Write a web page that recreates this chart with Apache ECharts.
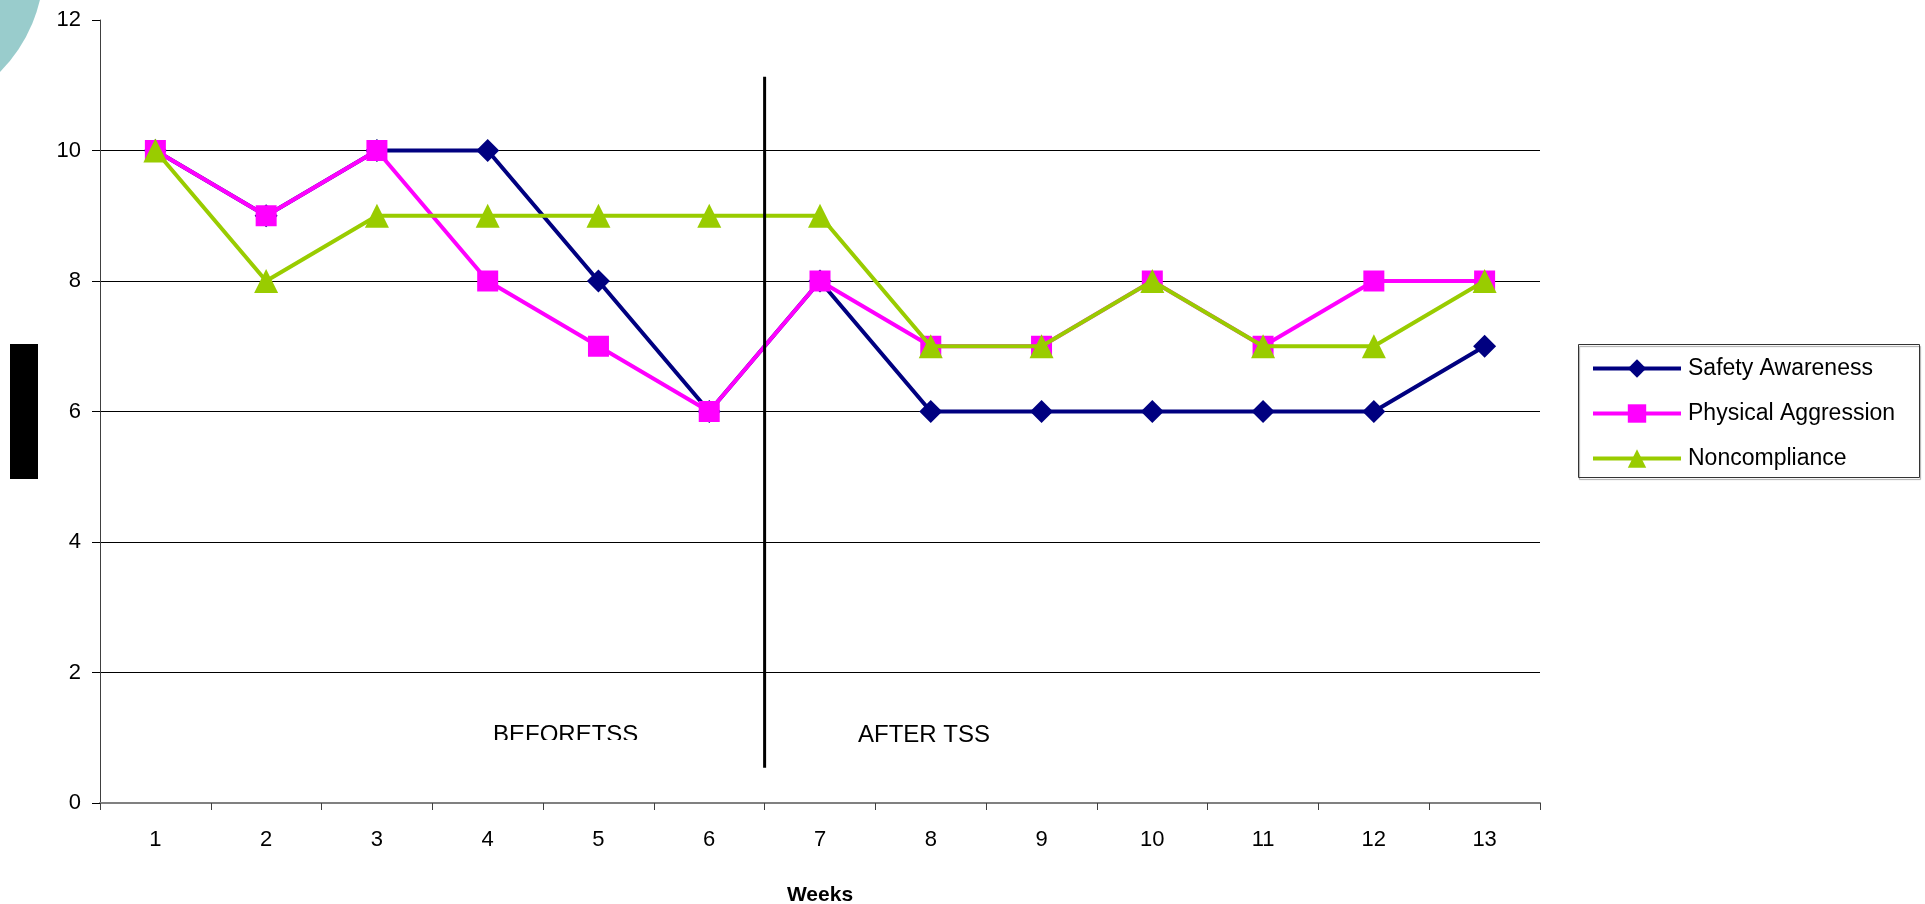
<!DOCTYPE html>
<html>
<head>
<meta charset="utf-8">
<title>Weekly behaviour scores</title>
<script src="https://cdn.jsdelivr.net/npm/echarts@6/dist/echarts.min.js"></script>
<style>
  html, body { margin: 0; padding: 0; background: #fff; }
  #chart { width: 1925px; height: 904px; }
</style>
</head>
<body>
<div id="chart"></div>
<script>
// Weeks 1..13
const weeks = ['1', '2', '3', '4', '5', '6', '7', '8', '9', '10', '11', '12', '13'];

// Scores per week
const safetyAwareness    = [10, 9, 10, 10, 8, 6, 8, 6, 6, 6, 6, 6, 7];
const physicalAggression = [10, 9, 10, 8, 7, 6, 8, 7, 7, 8, 7, 8, 8];
const noncompliance      = [10, 8, 9, 9, 9, 9, 9, 7, 7, 8, 7, 7, 8];

// Divider between the before/after phases (x in week-boundary units, y in score units)
const dividerX = 6;
const dividerY = [0.54, 11.13];

const yTicks = { min: 0, max: 12, interval: 2 };

const FONT = '"Liberation Sans", Arial, sans-serif';
const NAVY = '#000080', MAGENTA = '#FF00FF', LIME = '#99CC00';

const chart = echarts.init(document.getElementById('chart'));

chart.setOption({
  backgroundColor: '#ffffff',
  animation: false,
  textStyle: { fontFamily: FONT },
  grid: { left: 100, right: 385, top: 20, bottom: 101, containLabel: false, outerBoundsMode: 'none' },
  legend: {
    orient: 'vertical',
    left: 1591,
    top: 357,
    padding: 0,
    itemWidth: 88,
    itemHeight: 23,
    itemGap: 22,
    lineStyle: { width: 4 },
    data: ['Safety Awareness', 'Physical Aggression', 'Noncompliance'],
    textStyle: { fontSize: 23, color: '#000', fontFamily: FONT, padding: [0, 0, 0, 2] }
  },
  xAxis: [
    {
      type: 'category',
      data: weeks,
      boundaryGap: true,
      name: 'Weeks',
      nameLocation: 'middle',
      nameGap: 82,
      nameTextStyle: { fontSize: 21, fontWeight: 'bold', color: '#000', fontFamily: FONT },
      axisLine: { lineStyle: { color: '#808080', width: 2 } },
      axisTick: { show: true, length: 7, lineStyle: { color: '#404040', width: 1 } },
      axisLabel: { fontSize: 22, color: '#000', margin: 26, fontFamily: FONT },
      splitLine: { show: false }
    },
    {
      type: 'value',
      min: 0,
      max: weeks.length,
      show: false
    }
  ],
  yAxis: {
    type: 'value',
    min: yTicks.min,
    max: yTicks.max,
    interval: yTicks.interval,
    axisLine: { show: true, lineStyle: { color: '#404040', width: 1 } },
    axisTick: { show: true, length: 8, lineStyle: { color: '#000' } },
    axisLabel: { fontSize: 22, color: '#000', margin: 19, fontFamily: FONT },
    splitLine: {
      show: true,
      showMinLine: false,
      showMaxLine: false,
      lineStyle: { color: '#000', width: 1 }
    }
  },
  series: [
    {
      name: 'Safety Awareness',
      type: 'line',
      data: safetyAwareness,
      symbol: 'diamond',
      symbolSize: 23,
      lineStyle: { color: NAVY, width: 4 },
      itemStyle: { color: NAVY },
      z: 2
    },
    {
      name: 'Physical Aggression',
      type: 'line',
      data: physicalAggression,
      symbol: 'rect',
      symbolSize: 21,
      lineStyle: { color: MAGENTA, width: 4 },
      itemStyle: { color: MAGENTA },
      z: 3
    },
    {
      name: 'Noncompliance',
      type: 'line',
      data: noncompliance,
      symbol: 'triangle',
      symbolSize: 24,
      lineStyle: { color: LIME, width: 4 },
      itemStyle: { color: LIME },
      z: 4
    },
    {
      name: 'divider',
      type: 'line',
      xAxisIndex: 1,
      data: [[dividerX, dividerY[0]], [dividerX, dividerY[1]]],
      symbol: 'none',
      silent: true,
      lineStyle: { color: '#000', width: 3 },
      z: 5
    }
  ],
  graphic: [
    // slide decoration: teal disc peeking in from the corner
    {
      type: 'circle',
      shape: { cx: -108, cy: -35, r: 152 },
      style: { fill: '#99CCCC' },
      silent: true,
      z: 0
    },
    // slide decoration: black bar at the left edge
    {
      type: 'rect',
      shape: { x: 10, y: 344, width: 28, height: 135 },
      style: { fill: '#000' },
      silent: true
    },
    // legend frame
    {
      type: 'rect',
      shape: { x: 1578.5, y: 344.5, width: 341, height: 133 },
      style: {
        fill: 'rgba(0,0,0,0)', stroke: '#333', lineWidth: 1,
        shadowColor: 'rgba(0,0,0,0.35)', shadowOffsetX: 1, shadowOffsetY: 2, shadowBlur: 1
      },
      silent: true,
      z: 1
    },
    // phase labels
    {
      type: 'text',
      left: 493,
      top: 723,
      style: { text: 'BEFORETSS', fontSize: 24, fontFamily: FONT, fill: '#000' },
      silent: true,
      z: 10
    },
    {
      type: 'rect',
      shape: { x: 485, y: 740, width: 160, height: 14 },
      style: { fill: '#fff' },
      silent: true,
      z: 11
    },
    {
      type: 'text',
      left: 858,
      top: 723,
      style: { text: 'AFTER TSS', fontSize: 24, fontFamily: FONT, fill: '#000' },
      silent: true,
      z: 10
    }
  ]
});
</script>
</body>
</html>
